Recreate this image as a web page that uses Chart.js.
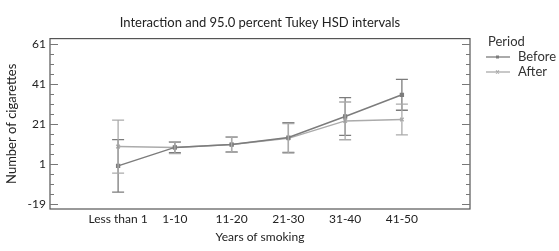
<!DOCTYPE html>
<html>
<head>
<meta charset="utf-8">
<script src="https://cdn.jsdelivr.net/npm/chart.js@4/dist/chart.umd.min.js"></script>
<style>
  html, body { margin: 0; padding: 0; background: #fff; }
  #wrap { width: 559px; height: 251px; position: relative; }
</style>
</head>
<body>
<div id="wrap"><canvas id="chart" width="559" height="251"></canvas></div>
<script>
const categories = ['Less than 1', '1-10', '11-20', '21-30', '31-40', '41-50'];
const beforeMean = [0.2, 9.4, 10.8, 14.3, 24.8, 35.6];
const beforeHalf = [13.1, 2.6, 3.7, 7.4, 9.4, 7.7];
const afterMean = [9.8, 9.3, 10.8, 13.9, 22.6, 23.3];
const afterHalf = [13.2, 3.0, 3.8, 7.4, 9.4, 7.7];
const yTickLabels = [-19, 1, 21, 41, 61];
const yMinorStep = 5;

const FONT = 'Lato, "Open Sans", sans-serif';
const beforeColor = '#7c7c7c';
const afterColor = '#ababab';

// barras de error, caja del grafico y marcas del eje y
const errorBars = {
    id: 'errorBars',
    afterDatasetsDraw(chart) {
        const ctx = chart.ctx;
        const xs = chart.scales.x, ys = chart.scales.y;
        chart.data.datasets.forEach((ds) => {
            ctx.save();
            ctx.strokeStyle = ds.borderColor;
            ctx.lineWidth = 1.3;
            ds.means.forEach((m, i) => {
                const x = xs.getPixelForValue(i);
                const yt = ys.getPixelForValue(m + ds.halfs[i]);
                const yb = ys.getPixelForValue(m - ds.halfs[i]);
                ctx.beginPath();
                ctx.moveTo(x, yt); ctx.lineTo(x, yb);
                ctx.moveTo(x - 6, yt); ctx.lineTo(x + 6, yt);
                ctx.moveTo(x - 6, yb); ctx.lineTo(x + 6, yb);
                ctx.stroke();
            });
            ctx.restore();
        });
    },
    afterDraw(chart) {
        const ctx = chart.ctx;
        const a = chart.chartArea;
        const ys = chart.scales.y;
        ctx.save();
        ctx.strokeStyle = '#555';
        ctx.lineWidth = 1.2;
        ctx.strokeRect(a.left, a.top, a.right - a.left, a.bottom - a.top);
        ctx.strokeStyle = '#777';
        ctx.lineWidth = 1;
        for (let v = yTickLabels[0]; v <= yTickLabels[yTickLabels.length - 1]; v += yMinorStep) {
            const y = Math.round(ys.getPixelForValue(v)) + 0.5;
            const len = yTickLabels.includes(v) ? 8 : 4;
            ctx.beginPath();
            ctx.moveTo(a.left, y); ctx.lineTo(a.left + len, y);
            ctx.moveTo(a.right, y); ctx.lineTo(a.right - len, y);
            ctx.stroke();
        }
        // leyenda
        ctx.fillStyle = '#333';
        ctx.font = '13px ' + FONT;
        ctx.textBaseline = 'middle';
        ctx.textAlign = 'left';
        ctx.fillText('Period', 488, 42);
        const items = [['Before', beforeColor, 57], ['After', afterColor, 72]];
        items.forEach(([label, color, y]) => {
            ctx.strokeStyle = color;
            ctx.lineWidth = 1.3;
            ctx.beginPath();
            ctx.moveTo(486, y); ctx.lineTo(510, y);
            ctx.stroke();
            ctx.fillText(label, 518, y);
        });
        ctx.fillStyle = beforeColor;
        ctx.fillRect(496, 55.5, 3, 3);
        ctx.strokeStyle = afterColor;
        ctx.beginPath();
        ctx.moveTo(496, 70.5); ctx.lineTo(499, 73.5);
        ctx.moveTo(499, 70.5); ctx.lineTo(496, 73.5);
        ctx.stroke();
        ctx.restore();
    }
};

new Chart(document.getElementById('chart'), {
    type: 'line',
    data: {
        datasets: [{
            label: 'Before',
            data: beforeMean.map((v, i) => ({ x: i, y: v })),
            means: beforeMean,
            halfs: beforeHalf,
            borderColor: beforeColor,
            backgroundColor: beforeColor,
            borderWidth: 1.5,
            pointStyle: 'rect',
            pointRadius: 2,
            tension: 0
        }, {
            label: 'After',
            data: afterMean.map((v, i) => ({ x: i, y: v })),
            means: afterMean,
            halfs: afterHalf,
            borderColor: afterColor,
            backgroundColor: afterColor,
            borderWidth: 1.5,
            pointStyle: 'crossRot',
            pointRadius: 2.5,
            tension: 0
        }]
    },
    options: {
        responsive: false,
        animation: false,
        layout: { padding: { top: 15, right: 89, left: 0, bottom: 0 } },
        plugins: {
            legend: { display: false },
            tooltip: { enabled: false },
            title: {
                display: true,
                fullSize: false,
                text: 'Interaction and 95.0 percent Tukey HSD intervals',
                color: '#222',
                font: { family: FONT, size: 13, weight: 'normal' },
                padding: { top: 0, bottom: 8 }
            }
        },
        scales: {
            x: {
                type: 'linear',
                min: -1.2,
                max: 6.2,
                grid: { display: false, drawTicks: false },
                border: { display: false },
                afterBuildTicks: (s) => { s.ticks = categories.map((c, i) => ({ value: i })); },
                afterFit: (s) => { s.height = 42; },
                ticks: {
                    color: '#222',
                    font: { family: FONT, size: 12 },
                    padding: 3,
                    maxRotation: 0,
                    autoSkip: false,
                    callback: (v) => categories[v]
                },
                title: {
                    display: true,
                    text: 'Years of smoking',
                    color: '#222',
                    font: { family: FONT, size: 12 },
                    padding: { top: 0, bottom: 7 }
                }
            },
            y: {
                min: -21.3,
                max: 63.6,
                grid: { display: false, drawTicks: false },
                border: { display: false },
                afterBuildTicks: (s) => { s.ticks = yTickLabels.map((v) => ({ value: v })); },
                afterFit: (s) => { s.width = 50; },
                ticks: {
                    color: '#222',
                    font: { family: FONT, size: 12 },
                    padding: 4
                },
                title: {
                    display: true,
                    text: 'Number of cigarettes',
                    color: '#222',
                    font: { family: FONT, size: 13 },
                    padding: { top: 4, bottom: 0 }
                }
            }
        }
    },
    plugins: [errorBars]
});
</script>
</body>
</html>
